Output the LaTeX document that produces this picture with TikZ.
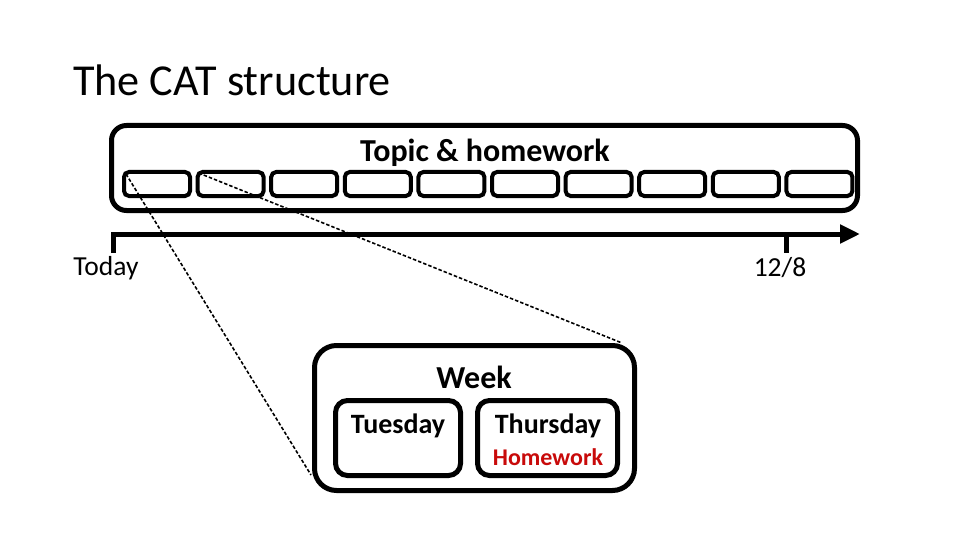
\documentclass[tikz,border=0pt]{standalone}
\usepackage{fontspec}
\setmainfont{Carlito}
\usetikzlibrary{arrows.meta}
\definecolor{hwred}{RGB}{200,10,10}
\tikzset{
  bigbox/.style={draw=black, line width=5pt, rounded corners=15pt, inner sep=0pt},
  slot/.style={draw=black, line width=4pt, rounded corners=5pt, minimum width=66pt, minimum height=24pt, inner sep=0pt},
  daybox/.style={draw=black, line width=5pt, rounded corners=12pt, minimum height=75pt, inner sep=0pt},
  lbl/.style={inner sep=0pt, font=\fontsize{27.5}{30}\selectfont},
  blbl/.style={inner sep=0pt, font=\fontsize{32}{36}\selectfont\bfseries},
  dlbl/.style={inner sep=0pt, font=\fontsize{28}{32}\selectfont\bfseries},
  zoomline/.style={line width=1.6pt, dash pattern=on 3.5pt off 2pt},
  axis/.style={line width=5pt, miter limit=10}
}
\begin{document}
\begin{tikzpicture}[x=1pt,y=-1pt]
\useasboundingbox (0,0) rectangle (960,540);
% title
\node[inner sep=0pt, anchor=west, font=\fontsize{44.2}{48}\selectfont] (title) at (73,80) {The CAT structure};
% top box
\node[bigbox, minimum width=746pt, minimum height=85pt] (top) at (484.5,168) {};
\node[blbl] (topic) at (485,153) {Topic \& homework};
\foreach \i in {0,...,9} {
  \node[slot] (s\i) at ({157+73.6*\i},184) {};
}
% time axis
\coordinate (a0) at (113,253);
\coordinate (a1) at (113,234);
\coordinate (aend) at (860,234);
\coordinate (k0) at (786,234);
\coordinate (k1) at (786,253);
\draw[axis, -{Triangle[length=20pt,width=18pt]}] (a0) -- (a1) -- (aend);
\draw[axis] (k0) -- (k1);
\node[lbl] (today) at (106,268) {Today};
\node[lbl] (date) at (780,268) {12/8};
% week box
\node[bigbox, rounded corners=22pt, minimum width=320pt, minimum height=145pt] (week) at (474.5,418) {};
\node[blbl] (weeklbl) at (474,377) {Week};
\node[daybox, minimum width=125pt] (tue) at (398,438) {};
\node[daybox, minimum width=140pt] (thu) at (547.5,438) {};
\node[dlbl] (tuelbl) at (398,426) {Tuesday};
\node[dlbl] (thulbl) at (548,426) {Thursday};
\node[inner sep=0pt, font=\fontsize{24}{28}\selectfont\bfseries, text=hwred] (hw) at (548,457) {Homework};
% zoom lines
\coordinate (w1) at (311,475);
\coordinate (w2) at (622,343);
\draw[zoomline] ([shift={(4pt,-4pt)}]s0.north west) -- (w1);
\draw[zoomline] ([shift={(3pt,-3pt)}]s1.north west) -- (w2);
\end{tikzpicture}
\end{document}
